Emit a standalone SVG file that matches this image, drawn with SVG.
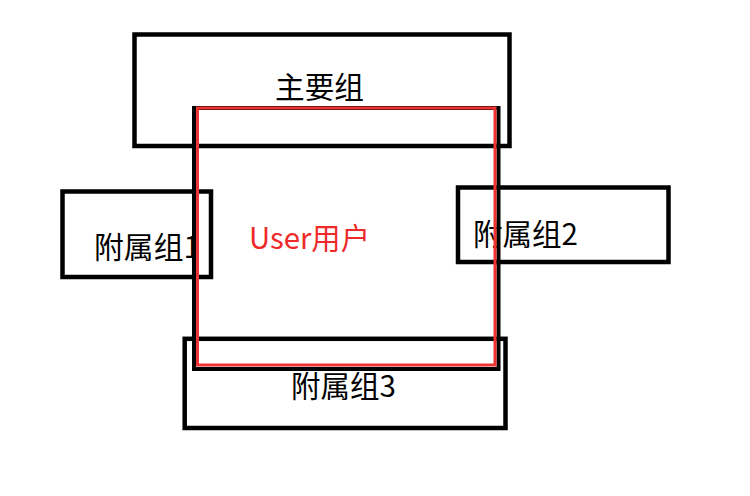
<svg xmlns="http://www.w3.org/2000/svg" width="750" height="496" viewBox="0 0 750 496">
  <style>
    .box { fill: none; stroke: #000; stroke-width: 4.5; }
    .lbl { font-family: "Microsoft YaHei", "Noto Sans CJK SC", "Noto Sans", sans-serif; font-size: 29.5px; fill: #000; }
    .user { fill: #ee2a2a; }
  </style>
  <rect width="750" height="496" fill="#fff"/>
  <g id="main-group">
    <rect class="box" x="134.5" y="34.5" width="375" height="111.5"/>
    <text class="lbl" x="275" y="98" textLength="89" lengthAdjust="spacingAndGlyphs">主要组</text>
  </g>
  <g id="sub-group-1">
    <rect class="box" x="62.5" y="191.5" width="148.5" height="85.5"/>
    <text class="lbl" x="94" y="258" textLength="106" lengthAdjust="spacingAndGlyphs">附属组1</text>
  </g>
  <g id="sub-group-2">
    <rect class="box" x="458" y="187.5" width="210.5" height="74.5"/>
    <text class="lbl" x="473" y="245" textLength="105" lengthAdjust="spacingAndGlyphs">附属组2</text>
  </g>
  <g id="sub-group-3">
    <rect class="box" x="184.7" y="338.8" width="320.8" height="89.2"/>
    <text class="lbl" x="291" y="397" textLength="105" lengthAdjust="spacingAndGlyphs">附属组3</text>
  </g>
  <g id="user">
    <rect x="194" y="108" width="304.5" height="261" fill="none" stroke="#000" stroke-width="4"/>
    <rect x="197.5" y="108" width="297.5" height="257" fill="none" stroke="#ee3333" stroke-width="3"/>
    <text class="lbl user" x="249" y="249" textLength="121" lengthAdjust="spacingAndGlyphs">User用户</text>
  </g>
  <g id="connectors"/>
</svg>
